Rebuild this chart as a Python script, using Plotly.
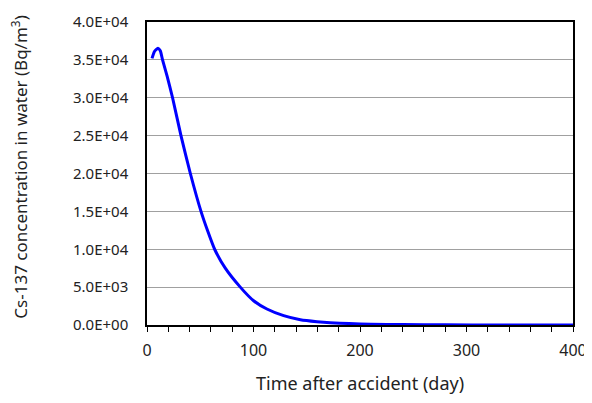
import plotly.graph_objects as go

days = [4.7, 7.0, 10.3, 12.5, 14.6, 19.0, 24.0, 31.9, 40.7, 50.7, 57.0, 63.5, 73.5, 87.6,
        100.1, 112.6, 128.3, 144.0, 159.6, 172.0, 190.0, 210.0, 240.0, 280.0, 330.0, 400.0]
conc = [35200, 36100, 36550, 36200, 35000, 32800, 30000, 25000, 20000, 15000, 12400, 10000,
        7500, 5000, 3200, 2110, 1230, 700, 440, 300, 190, 110, 50, 18, 6, 2]

y_ticks = [0, 5000, 10000, 15000, 20000, 25000, 30000, 35000, 40000]
y_labels = ["0.0E+00", "5.0E+03", "1.0E+04", "1.5E+04", "2.0E+04", "2.5E+04",
            "3.0E+04", "3.5E+04", "4.0E+04"]
x_ticks = [0, 100, 200, 300, 400]

font_family = "Noto Sans, Open Sans, sans-serif"

fig = go.Figure()
fig.add_trace(go.Scatter(x=days, y=conc, mode="lines",
                         line=dict(color="#0000FF", width=3, shape="spline", smoothing=0.5),
                         showlegend=False, hoverinfo="x+y"))

fig.update_layout(
    width=584, height=395,
    margin=dict(l=139, r=19, t=14, b=78),
    paper_bgcolor="white", plot_bgcolor="white",
    font=dict(family=font_family, size=16, color="#222222"),
    xaxis=dict(range=[0, 400], tickvals=x_ticks, ticks="outside", ticklen=5,
               tickcolor="black", tickwidth=1,
               minor=dict(dtick=20, ticks="outside", ticklen=5, tickcolor="black", tickwidth=1),
               showgrid=False, zeroline=False, showline=True, linecolor="black",
               linewidth=1.5, mirror=True, ticklabelstandoff=5, automargin=False,
               tickfont=dict(size=16)),
    yaxis=dict(range=[0, 40000], tickvals=y_ticks, ticktext=y_labels, ticks="",
               showgrid=True, gridcolor="#a0a0a0", gridwidth=1, zeroline=False,
               showline=True, linecolor="black", linewidth=1.5, mirror=True,
               ticklabelstandoff=14, automargin=False, tickfont=dict(size=15)),
    annotations=[
        dict(text="Time after accident (day)", xref="paper", yref="paper",
             x=0.5, y=-0.191, xanchor="center", yanchor="middle",
             showarrow=False, font=dict(size=18)),
        dict(text="Cs-137 concentration in water (Bq/m<sup>3</sup>)", xref="paper", yref="paper",
             x=-0.30, y=0.52, xanchor="center", yanchor="middle", textangle=-90,
             showarrow=False, font=dict(size=17)),
    ],
)

fig.write_html("out.html")
